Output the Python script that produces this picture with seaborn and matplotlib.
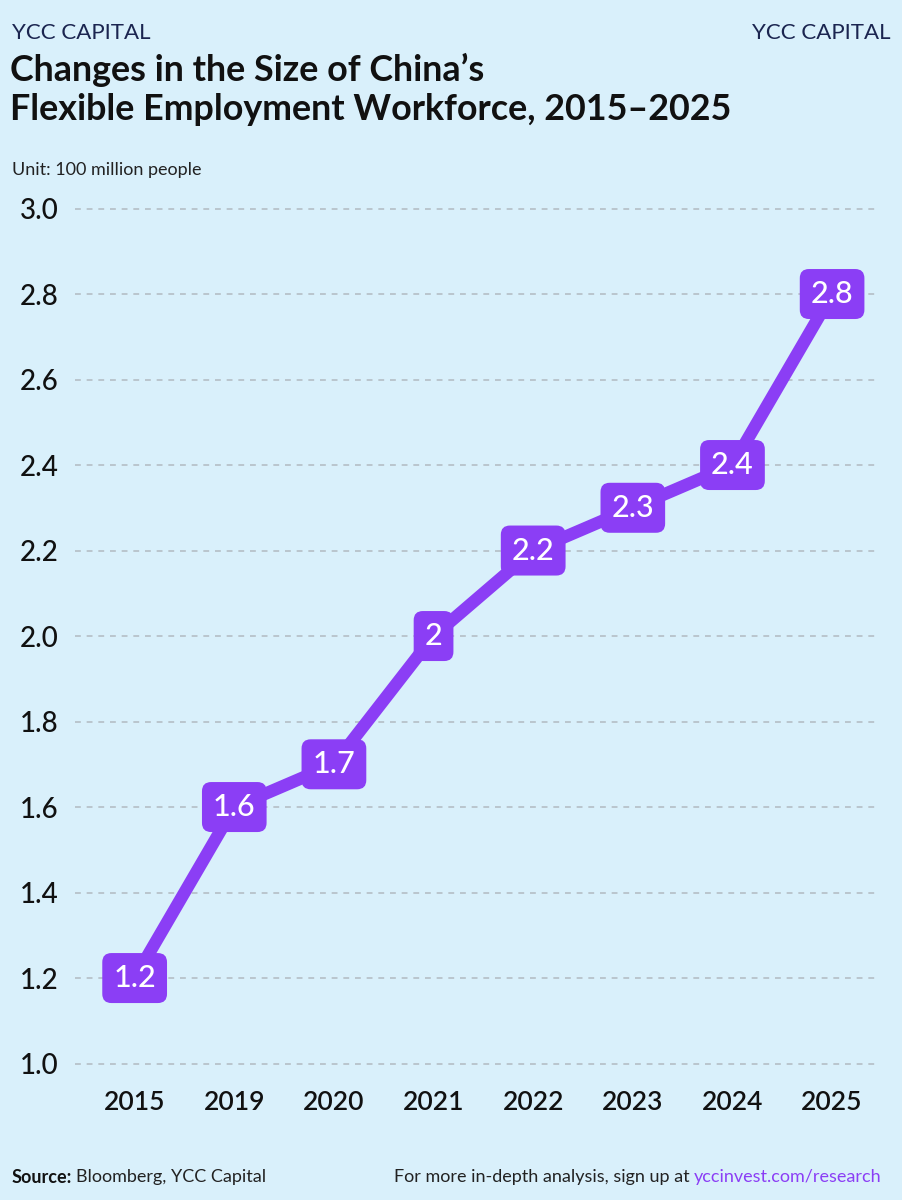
import matplotlib
matplotlib.use("Agg")
import matplotlib.pyplot as plt
import seaborn as sns
import pandas as pd

# data (unit: 100 million people)
years = ["2015", "2019", "2020", "2021", "2022", "2023", "2024", "2025"]
workers = [1.2, 1.6, 1.7, 2.0, 2.2, 2.3, 2.4, 2.8]
labels = ["1.2", "1.6", "1.7", "2", "2.2", "2.3", "2.4", "2.8"]
yticks = [1.0, 1.2, 1.4, 1.6, 1.8, 2.0, 2.2, 2.4, 2.6, 2.8, 3.0]

BG = "#d9f0fb"
PURPLE = "#8b3ef5"
NAVY = "#1b2550"

sns.set_theme(style="white")
plt.rcParams["font.family"] = ["Lato", "DejaVu Sans"]

df = pd.DataFrame({"year": years, "workers": workers})

fig = plt.figure(figsize=(9.02, 12), dpi=100, facecolor=BG)
ax = fig.add_axes([0.083, 0.108, 0.887, 0.725])
ax.set_facecolor(BG)

sns.lineplot(data=df, x="year", y="workers", ax=ax, color=PURPLE,
             linewidth=9, solid_capstyle="round", solid_joinstyle="round",
             zorder=3)

for i, (v, lab) in enumerate(zip(workers, labels)):
    ax.text(i, v, lab, ha="center", va="center", color="white",
            fontsize=22, fontweight="medium", zorder=5,
            bbox=dict(boxstyle="round,pad=0.36,rounding_size=0.3",
                      fc=PURPLE, ec="none"))

ax.set_xlim(-0.6, 7.43)
ax.set_ylim(0.984, 3.019)
ax.set_yticks(yticks)
ax.set_yticklabels([f"{t:.1f}" for t in yticks])
ax.yaxis.grid(True, color="#b4bec5", linestyle=(0, (3.5, 3.5)), linewidth=1.2)
ax.xaxis.grid(False)
for s in ax.spines.values():
    s.set_visible(False)
ax.tick_params(axis="y", labelsize=20, pad=12, colors="#111111", length=0)
ax.tick_params(axis="x", labelsize=19, pad=14, colors="#111111", length=0)
for t in ax.get_xticklabels():
    t.set_fontweight("semibold")
for t in ax.get_yticklabels():
    t.set_fontweight("medium")
ax.set_xlabel("")
ax.set_ylabel("")

# header
fig.text(0.013, 0.981, "YCC CAPITAL", ha="left", va="top", fontsize=16, color=NAVY)
fig.text(0.987, 0.981, "YCC CAPITAL", ha="right", va="top", fontsize=16, color=NAVY)
fig.text(0.011, 0.956, "Changes in the Size of China\u2019s\nFlexible Employment Workforce, 2015\u20132025",
         ha="left", va="top", fontsize=25.8, fontweight="bold", color="#111111",
         linespacing=1.22)
fig.text(0.013, 0.858, "Unit: 100 million people", ha="left", va="center",
         fontsize=13, color="#222222")

# footer
y_foot = 0.019
t1 = fig.text(0.013, y_foot, "Source:", ha="left", va="center", fontsize=13,
              fontweight="bold", color="#111111")
fig.canvas.draw()
bb = t1.get_window_extent()
fig.text((bb.x1 + 4) / fig.bbox.width, y_foot, "Bloomberg, YCC Capital",
         ha="left", va="center", fontsize=13, color="#222222")
t3 = fig.text(0.977, y_foot, "yccinvest.com/research", ha="right", va="center",
              fontsize=13, color=PURPLE)
fig.canvas.draw()
bb3 = t3.get_window_extent()
fig.text((bb3.x0 - 4) / fig.bbox.width, y_foot, "For more in-depth analysis, sign up at",
         ha="right", va="center", fontsize=13, color="#222222")

fig.savefig("out.png", dpi=100, facecolor=BG)
